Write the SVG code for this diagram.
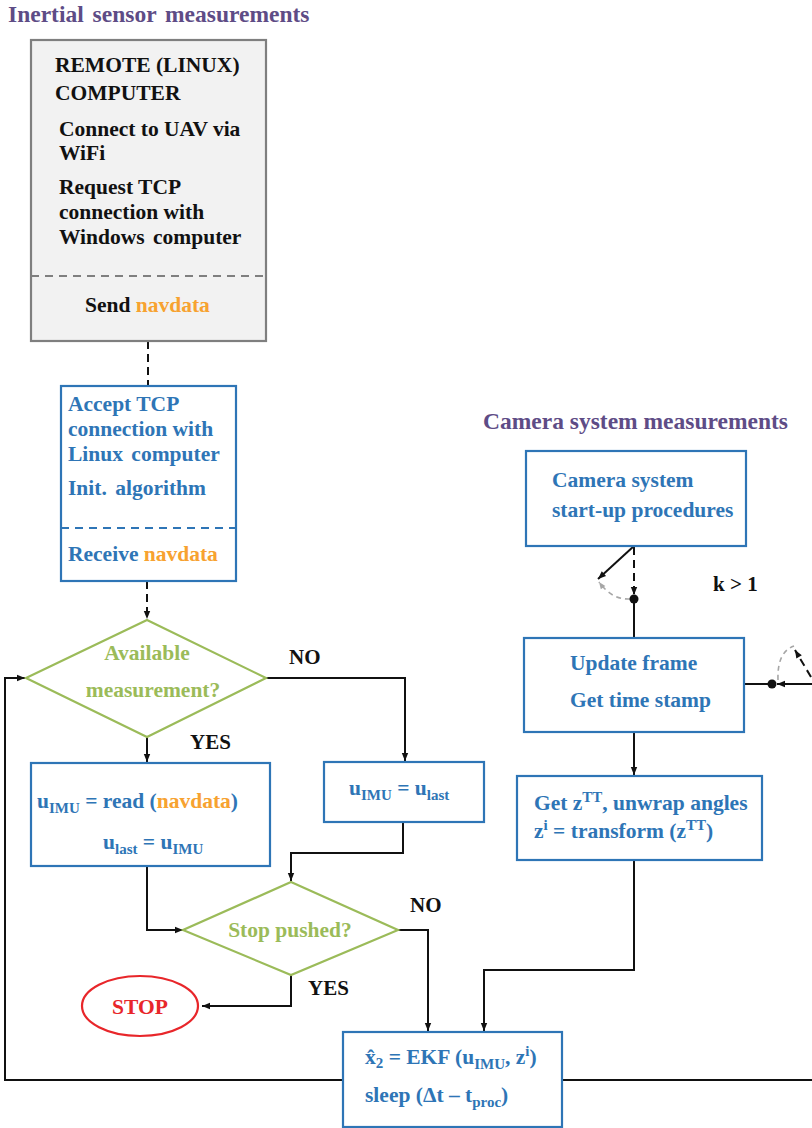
<svg xmlns="http://www.w3.org/2000/svg" width="812" height="1128" viewBox="0 0 812 1128">
  <defs>
    <style>
      text { font-family: "Liberation Serif", "Times New Roman", serif; font-weight: bold; font-size: 21.5px; }
      .title { fill: #5e4c86; font-size: 23.5px; }
      .dark { fill: #111; }
      .blue { fill: #2e75b6; }
      .green { fill: #9bbb59; }
      .orange { fill: #f7a230; }
      .red { fill: #e8262a; }
      .lbl { fill: #111; font-size: 21px; }
      .sub { font-size: 15px; }
      .box { fill: #fff; stroke: #2e75b6; stroke-width: 2.2; }
      .gbox { fill: #f2f2f2; stroke: #7f7f7f; stroke-width: 2.2; }
      .dia { fill: #fff; stroke: #9bbb59; stroke-width: 2.2; }
      .wire { fill: none; stroke: #111; stroke-width: 2; }
      .dash { fill: none; stroke: #111; stroke-width: 2; stroke-dasharray: 8 5; }
      .gdash { fill: none; stroke: #a6a6a6; stroke-width: 1.6; stroke-dasharray: 5 4; }
    </style>
    <marker id="arr" viewBox="0 0 10 10" refX="10" refY="5" markerWidth="9" markerHeight="8" markerUnits="userSpaceOnUse" orient="auto">
      <path d="M0,1 L10,5 L0,9 z" fill="#111"/>
    </marker>
    <marker id="garr" viewBox="0 0 10 10" refX="10" refY="5" markerWidth="8" markerHeight="7" markerUnits="userSpaceOnUse" orient="auto">
      <path d="M0,1 L10,5 L0,9 z" fill="#a6a6a6"/>
    </marker>
  </defs>

  <rect width="812" height="1128" fill="#fff"/>

  <!-- section headings -->
  <text class="title" x="8" y="22" word-spacing="3">Inertial sensor measurements</text>
  <text class="title" x="483" y="429">Camera system measurements</text>

  <!-- connectors -->
  <g id="connectors">
    <path class="dash" d="M148,341 V386"/>
    <path class="dash" d="M147,581 V619" marker-end="url(#arr)"/>
    <path class="wire" d="M266,678 H405 V761" marker-end="url(#arr)"/>
    <path class="wire" d="M147,737 V762" marker-end="url(#arr)"/>
    <path class="wire" d="M403,822 V853 H291 V881" marker-end="url(#arr)"/>
    <path class="wire" d="M147,866 V930 H183" marker-end="url(#arr)"/>
    <path class="wire" d="M398,930 H428 V1031" marker-end="url(#arr)"/>
    <path class="wire" d="M291,975 V1006 H202" marker-end="url(#arr)"/>
    <path class="wire" d="M634,860 V970 H484 V1031" marker-end="url(#arr)"/>
    <path class="wire" d="M343,1080 H5 V678 H25" marker-end="url(#arr)"/>
    <path class="wire" d="M562,1080 H812"/>
    <path class="wire" d="M634,732 V775" marker-end="url(#arr)"/>

    <!-- start-up / loop switch below camera start-up -->
    <path class="wire" d="M634,546 L598,579" marker-end="url(#arr)"/>
    <path class="dash" d="M634,547 V595" marker-end="url(#arr)"/>
    <path class="gdash" d="M630,599 Q612,600 599,582" marker-end="url(#garr)"/>
    <circle cx="634" cy="599" r="4.5" fill="#111"/>
    <path class="wire" d="M634,599 V638"/>

    <!-- trigger switch at the right of update frame -->
    <path class="wire" d="M744,684 H772"/>
    <circle cx="772" cy="684" r="4.5" fill="#111"/>
    <path class="wire" d="M812,684 H777" marker-end="url(#arr)"/>
    <path class="gdash" d="M778,680 Q777,652 794,646"/>
    <path class="dash" d="M811,677 L795,650" marker-end="url(#arr)"/>
  </g>

  <!-- remote Linux computer -->
  <g id="node-remote">
    <rect class="gbox" x="31" y="40" width="235" height="301"/>
    <line x1="31" y1="276" x2="266" y2="276" stroke="#7f7f7f" stroke-width="2" stroke-dasharray="8 6"/>
    <text class="dark" x="55" y="72">REMOTE (LINUX)</text>
    <text class="dark" x="55" y="100">COMPUTER</text>
    <text class="dark" x="59" y="136">Connect to UAV via</text>
    <text class="dark" x="59" y="160">WiFi</text>
    <text class="dark" x="59" y="194">Request TCP</text>
    <text class="dark" x="59" y="219">connection with</text>
    <text class="dark" x="59" y="244" word-spacing="3">Windows computer</text>
    <text class="dark" x="85" y="312">Send <tspan class="orange">navdata</tspan></text>
  </g>

  <!-- accept connection -->
  <g id="node-accept">
    <rect class="box" x="61" y="386" width="175" height="195"/>
    <line x1="61" y1="528" x2="236" y2="528" stroke="#2e75b6" stroke-width="2" stroke-dasharray="8 6"/>
    <text class="blue" x="68" y="411">Accept TCP</text>
    <text class="blue" x="68" y="436">connection with</text>
    <text class="blue" x="68" y="461" word-spacing="3">Linux computer</text>
    <text class="blue" x="68" y="495" word-spacing="3">Init. algorithm</text>
    <text class="blue" x="68" y="561">Receive <tspan class="orange">navdata</tspan></text>
  </g>

  <!-- available measurement decision -->
  <g id="node-available">
    <polygon class="dia" points="147,620 266,678 147,737 26,678"/>
    <text class="green" x="147" y="660" text-anchor="middle">Available</text>
    <text class="green" x="153" y="697" text-anchor="middle">measurement?</text>
  </g>
  <text class="lbl" x="289" y="664">NO</text>
  <text class="lbl" x="190" y="749">YES</text>

  <!-- read navdata -->
  <g id="node-read">
    <rect class="box" x="31" y="763" width="239" height="103"/>
    <text class="blue" x="37" y="808">u<tspan class="sub" dy="5">IMU</tspan><tspan dy="-5"> = read (</tspan><tspan class="orange">navdata</tspan>)</text>
    <text class="blue" x="103" y="849">u<tspan class="sub" dy="5">last</tspan><tspan dy="-5"> = u</tspan><tspan class="sub" dy="5">IMU</tspan></text>
  </g>

  <!-- reuse last -->
  <g id="node-last">
    <rect class="box" x="324" y="762" width="160" height="60"/>
    <text class="blue" x="349" y="795">u<tspan class="sub" dy="5">IMU</tspan><tspan dy="-5"> = u</tspan><tspan class="sub" dy="5">last</tspan></text>
  </g>

  <!-- stop decision -->
  <g id="node-stopq">
    <polygon class="dia" points="291,882 398,930 291,975 183,930"/>
    <text class="green" x="290" y="937" text-anchor="middle">Stop pushed?</text>
  </g>
  <text class="lbl" x="410" y="912">NO</text>
  <text class="lbl" x="308" y="995">YES</text>

  <!-- stop terminal -->
  <g id="node-stop">
    <ellipse cx="140" cy="1006" rx="58" ry="30" fill="#fff" stroke="#e8262a" stroke-width="2.2"/>
    <text class="red" x="140" y="1014" text-anchor="middle">STOP</text>
  </g>

  <!-- EKF step -->
  <g id="node-ekf">
    <rect class="box" x="343" y="1032" width="219" height="95"/>
    <text class="blue" x="365" y="1064">x̂<tspan class="sub" dy="4">2</tspan><tspan dy="-4"> = EKF (u</tspan><tspan class="sub" dy="5">IMU</tspan><tspan dy="-5">, z</tspan><tspan class="sub" dy="-8">i</tspan><tspan dy="8">)</tspan></text>
    <text class="blue" x="365" y="1102">sleep (Δt – t<tspan class="sub" dy="5">proc</tspan><tspan dy="-5">)</tspan></text>
  </g>

  <!-- camera start-up -->
  <g id="node-camera">
    <rect class="box" x="526" y="451" width="220" height="95"/>
    <text class="blue" x="552" y="487">Camera system</text>
    <text class="blue" x="552" y="517">start-up procedures</text>
  </g>
  <text class="lbl" x="713" y="591">k &gt; 1</text>

  <!-- frame update -->
  <g id="node-update">
    <rect class="box" x="524" y="638" width="220" height="94"/>
    <text class="blue" x="570" y="670">Update frame</text>
    <text class="blue" x="570" y="707">Get time stamp</text>
  </g>

  <!-- pose transform -->
  <g id="node-transform">
    <rect class="box" x="517" y="776" width="245" height="84"/>
    <text class="blue" x="534" y="810">Get z<tspan class="sub" dy="-8">TT</tspan><tspan dy="8">, unwrap angles</tspan></text>
    <text class="blue" x="534" y="838">z<tspan class="sub" dy="-8">i</tspan><tspan dy="8"> = transform (z</tspan><tspan class="sub" dy="-8">TT</tspan><tspan dy="8">)</tspan></text>
  </g>
</svg>
